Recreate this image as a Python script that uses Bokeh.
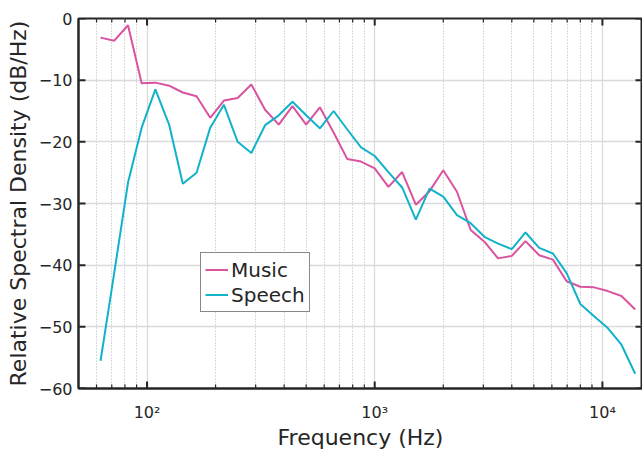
import math
from bokeh.plotting import figure
from bokeh.models import Range1d, FixedTicker, Legend, LegendItem
from bokeh.embed import file_html
from bokeh.resources import INLINE

# ---- data ----
freq_hz = [62.5, 71.8, 82.5, 94.7, 108.8, 125, 143.6, 165, 189.5, 217.6,
           250, 287.2, 330, 379, 435.3, 500, 574.3, 659.8, 757.9, 870.6,
           1000, 1148.7, 1319.5, 1515.7, 1741.1, 2000, 2297.4, 2639, 3031.4, 3482.2,
           4000, 4594.8, 5278, 6062.9, 6964.4, 8000, 9189.6, 10556, 12125.7, 13928.8]

music_db = [-3.1, -3.6, -1.1, -10.5, -10.4, -10.9, -12.0, -12.6, -16.1, -13.3,
            -12.9, -10.7, -14.8, -17.2, -14.2, -17.2, -14.4, -18.5, -22.8, -23.2,
            -24.3, -27.3, -24.9, -30.2, -28.0, -24.6, -28.1, -34.3, -36.2, -38.9,
            -38.5, -36.1, -38.4, -39.1, -42.6, -43.5, -43.6, -44.2, -45.0, -47.2]

speech_db = [-55.5, -41.2, -26.6, -17.7, -11.5, -17.2, -26.8, -25.0, -17.7, -14.0,
             -20.0, -21.8, -17.3, -15.7, -13.5, -15.7, -17.8, -15.0, -18.0, -20.9,
             -22.3, -24.9, -27.4, -32.6, -27.6, -28.9, -31.9, -33.2, -35.4, -36.5,
             -37.4, -34.7, -37.2, -38.1, -41.3, -46.3, -48.3, -50.2, -52.9, -57.6]

series_names = ["Music", "Speech"]
series_colors = ["#D9539F", "#12B2CB"]

x_limits = [50, 15000]
y_limits = [-60, 0]
x_major_ticks = [100, 1000, 10000]
x_major_labels = ["10\u00b2", "10\u00b3", "10\u2074"]
x_minor_ticks = [60, 70, 80, 90, 200, 300, 400, 500, 600, 700, 800, 900,
                 2000, 3000, 4000, 5000, 6000, 7000, 8000, 9000]
y_ticks = [-60, -50, -40, -30, -20, -10, 0]
y_tick_labels = ["\u221260", "\u221250", "\u221240", "\u221230", "\u221220", "\u221210", "0"]

FONT = "DejaVu Sans"
TXT = "#262626"

p = figure(width=642, height=452, x_axis_type="log",
           x_range=Range1d(*x_limits), y_range=Range1d(*y_limits),
           output_backend="svg", toolbar_location=None,
           min_border_left=78, min_border_right=0, min_border_top=18, min_border_bottom=61)
p.outline_line_color = TXT
p.outline_line_width = 2

def style_axis(ax):
    ax.axis_line_color = TXT
    ax.axis_line_width = 2
    ax.major_tick_in = 0
    ax.major_tick_out = 0
    ax.minor_tick_in = 0
    ax.minor_tick_out = 0
    ax.major_label_text_font = FONT
    ax.major_label_text_font_size = "16px"
    ax.major_label_text_color = TXT
    ax.axis_label_text_font = FONT
    ax.axis_label_text_font_size = "22px"
    ax.axis_label_text_font_style = "normal"
    ax.axis_label_text_color = TXT

xa = p.xaxis[0]
xa.ticker = FixedTicker(ticks=x_major_ticks, minor_ticks=x_minor_ticks)
xa.major_label_overrides = dict(zip(x_major_ticks, x_major_labels))
xa.axis_label = "Frequency (Hz)"
style_axis(xa)
xa.major_label_standoff = 14
xa.axis_label_standoff = 0

ya = p.yaxis[0]
ya.ticker = FixedTicker(ticks=y_ticks)
ya.major_label_overrides = dict(zip(y_ticks, y_tick_labels))
ya.axis_label = "Relative Spectral Density (dB/Hz)"
style_axis(ya)
ya.major_label_standoff = 6
ya.axis_label_standoff = 5

p.xgrid.grid_line_color = "#DADADA"
p.xgrid.grid_line_width = 1.3
p.xgrid.minor_grid_line_color = "#B5B5B5"
p.xgrid.minor_grid_line_dash = "1 2"
p.xgrid.minor_grid_line_width = 1
p.ygrid.grid_line_color = "#DADADA"
p.ygrid.grid_line_width = 1.3

r_music = p.line(freq_hz, music_db, line_color=series_colors[0], line_width=2)
r_speech = p.line(freq_hz, speech_db, line_color=series_colors[1], line_width=2)

# inward tick marks (drawn as short screen-length rays from the frame edges)
tick_style = dict(length_units="screen", line_color=TXT)
n_maj, n_min = len(x_major_ticks), len(x_minor_ticks)
p.ray(x=x_major_ticks, y=[y_limits[0]] * n_maj, length=7, angle=math.pi / 2, line_width=2, **tick_style)
p.ray(x=x_minor_ticks, y=[y_limits[0]] * n_min, length=4, angle=math.pi / 2, line_width=1.2, **tick_style)
p.ray(x=x_major_ticks, y=[y_limits[1]] * n_maj, length=7, angle=-math.pi / 2, line_width=2, **tick_style)
p.ray(x=x_minor_ticks, y=[y_limits[1]] * n_min, length=4, angle=-math.pi / 2, line_width=1.2, **tick_style)
p.ray(x=[x_limits[0]] * len(y_ticks), y=y_ticks, length=7, angle=0, line_width=2, **tick_style)
p.ray(x=[x_limits[1]] * len(y_ticks), y=y_ticks, length=7, angle=math.pi, line_width=2, **tick_style)

legend = Legend(items=[LegendItem(label=series_names[0], renderers=[r_music]),
                       LegendItem(label=series_names[1], renderers=[r_speech])],
                location=(122, 76))
legend.label_text_font = FONT
legend.label_text_font_size = "20px"
legend.label_text_color = TXT
legend.border_line_color = "#111111"
legend.border_line_width = 1.5
legend.background_fill_color = "white"
legend.background_fill_alpha = 1
legend.glyph_width = 23
legend.label_standoff = 3
legend.padding = 4
legend.spacing = 0
legend.margin = 0
legend.label_height = 25
legend.glyph_height = 25
p.add_layout(legend)

open("out.html", "w").write(file_html(p, INLINE))
